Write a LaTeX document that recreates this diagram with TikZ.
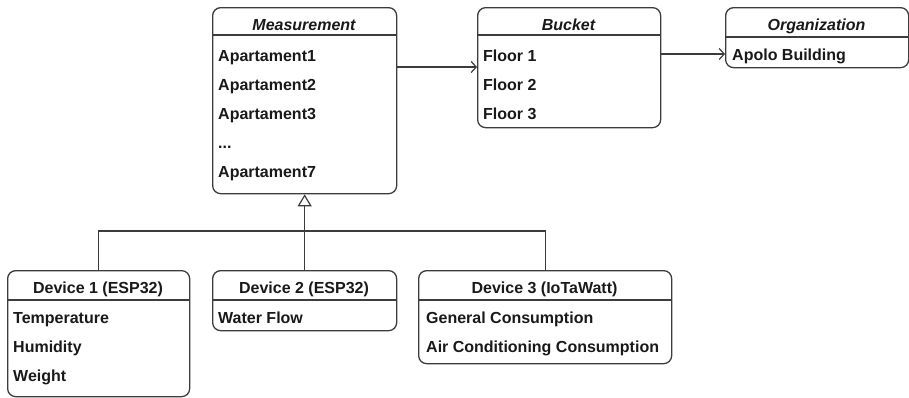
\documentclass[tikz,border=0pt]{standalone}
\usepackage{fontspec}
\setmainfont{Liberation Sans}
\usetikzlibrary{arrows.meta,calc}
\definecolor{linec}{RGB}{60,60,60}
\definecolor{textc}{RGB}{25,25,25}
\tikzset{
  box/.style={draw=linec, line width=1.3pt, rounded corners=8pt, inner sep=0pt, anchor=north west},
  hline/.style={draw=linec, line width=1.2pt},
  hdr/.style={anchor=base, inner sep=0pt, text=textc, font=\fontsize{16}{19}\selectfont\bfseries\itshape},
  dhdr/.style={anchor=base, inner sep=0pt, text=textc, font=\fontsize{16}{19}\selectfont\bfseries},
  row/.style={anchor=base west, inner sep=0pt, text=textc, font=\fontsize{16}{19}\selectfont\bfseries},
  conn/.style={draw=linec, line width=1.2pt},
  assoc/.style={conn, -{Straight Barb[length=5pt,width=11pt,line width=1.2pt]}},
  gen/.style={conn, -{Triangle[open,length=12pt,width=14pt,line width=1.2pt]}}
}
\begin{document}
\begin{tikzpicture}[x=1pt,y=-1pt]
\useasboundingbox (0,0) rectangle (909,397);
% Measurement
\node[box, minimum width=184pt, minimum height=186pt] (meas) at (212,7) {};
\draw[hline] (212,35) -- (396,35);
\node[hdr] (measT) at (304,30) {Measurement};
\node[row] (m1) at (218,61) {Apartament1};
\node[row] (m2) at (218,90) {Apartament2};
\node[row] (m3) at (218,119) {Apartament3};
\node[row] (m4) at (218,148) {...};
\node[row] (m5) at (218,177) {Apartament7};
% Bucket
\node[box, minimum width=183pt, minimum height=120pt] (bucket) at (477,7) {};
\draw[hline] (477,35) -- (660,35);
\node[hdr] (bucketT) at (568.5,30) {Bucket};
\node[row] (b1) at (483,61) {Floor 1};
\node[row] (b2) at (483,90) {Floor 2};
\node[row] (b3) at (483,119) {Floor 3};
% Organization
\node[box, minimum width=183pt, minimum height=60pt] (org) at (725,7) {};
\draw[hline] (725,37) -- (908,37);
\node[hdr] (orgT) at (816.5,30) {Organization};
\node[row] (o1) at (732,60) {Apolo Building};
% Device 1
\node[box, minimum width=182pt, minimum height=126pt] (dev1) at (7,270) {};
\draw[hline] (7,300) -- (189,300);
\node[dhdr] (dev1T) at (98,293) {Device 1 (ESP32)};
\node[row] (d11) at (13,323) {Temperature};
\node[row] (d12) at (13,352) {Humidity};
\node[row] (d13) at (13,381) {Weight};
% Device 2
\node[box, minimum width=184pt, minimum height=60pt] (dev2) at (212,270) {};
\draw[hline] (212,300) -- (396,300);
\node[dhdr] (dev2T) at (304,293) {Device 2 (ESP32)};
\node[row] (d21) at (218,323) {Water Flow};
% Device 3
\node[box, minimum width=253pt, minimum height=93pt] (dev3) at (418,270) {};
\draw[hline] (418,300) -- (671,300);
\node[dhdr] (dev3T) at (544.5,293) {Device 3 (IoTaWatt)};
\node[row] (d31) at (426,323) {General Consumption};
\node[row] (d32) at (426,352) {Air Conditioning Consumption};
% connectors
\coordinate (j) at (304,231);
\draw[assoc] (meas.east |- 0,67) -- (bucket.west |- 0,67);
\draw[assoc] (bucket.east |- 0,54) -- (org.west |- 0,54);
\draw[gen] (dev2.north) -- (meas.south);
\draw[conn] (dev1.north) |- (j);
\draw[conn] (dev3.north) |- (j);
\end{tikzpicture}
\end{document}
